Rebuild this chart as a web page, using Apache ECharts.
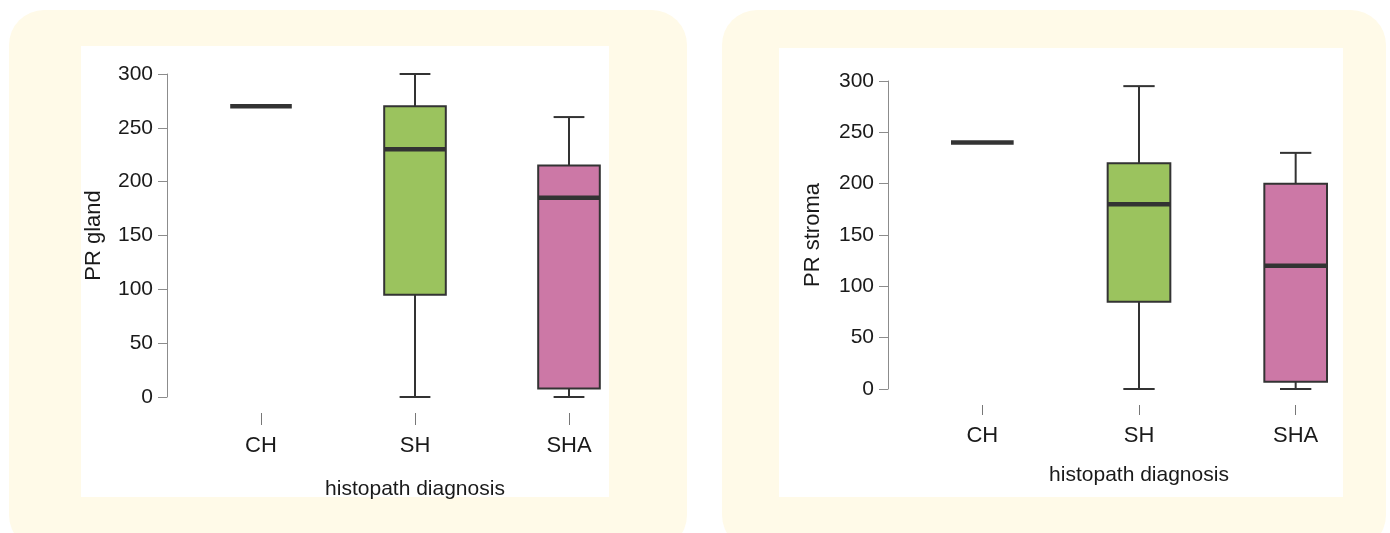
<!DOCTYPE html>
<html>
<head>
<meta charset="utf-8">
<title>PR gland / PR stroma by histopath diagnosis</title>
<script src="https://cdn.jsdelivr.net/npm/echarts@6/dist/echarts.min.js"></script>
<style>
  html, body { margin: 0; padding: 0; background: #ffffff; }
  #chart { width: 1390px; height: 533px; }
</style>
</head>
<body>
<div id="chart"></div>
<script>
// Diagnosis groups on the x axis
const categories = ['CH', 'SH', 'SHA'];
const yTicks = [0, 50, 100, 150, 200, 250, 300];

// PR gland five-number summaries per group
const glandMin    = [270,   0,   0];
const glandQ1     = [270,  95,   8];
const glandMedian = [270, 230, 185];
const glandQ3     = [270, 270, 215];
const glandMax    = [270, 300, 260];

// PR stroma five-number summaries per group
const stromaMin    = [240,   0,   0];
const stromaQ1     = [240,  85,   7];
const stromaMedian = [240, 180, 120];
const stromaQ3     = [240, 220, 200];
const stromaMax    = [240, 295, 230];

const boxColors = ['#ffffff', '#9bc35e', '#cc78a6'];
const INK = '#333333';
const TICK_FONT = '"Liberation Sans", Arial, sans-serif';
const TITLE_FONT = '"Liberation Sans", Arial, sans-serif';

function rows(mn, q1, md, q3, mx) {
  return categories.map((c, i) => [i, mn[i], q1[i], md[i], q3[i], mx[i]]);
}

// Box, whiskers with short caps, and a heavy median bar
function renderBox(params, api) {
  const i = api.value(0);
  const band = api.size([1, 0])[0];
  const boxW = band * 0.4;
  const capW = band * 0.2;
  const x = api.coord([i, 0])[0];
  const yMin = api.coord([i, api.value(1)])[1];
  const yQ1 = api.coord([i, api.value(2)])[1];
  const yMed = api.coord([i, api.value(3)])[1];
  const yQ3 = api.coord([i, api.value(4)])[1];
  const yMax = api.coord([i, api.value(5)])[1];
  const line = { stroke: INK, lineWidth: 2 };
  const children = [];
  if (yQ1 - yQ3 > 0.5) {
    children.push({
      type: 'rect',
      shape: { x: x - boxW / 2, y: yQ3, width: boxW, height: yQ1 - yQ3 },
      style: { fill: boxColors[i], stroke: INK, lineWidth: 2 }
    });
  }
  if (yMin - yQ1 > 0.5) {
    children.push({ type: 'line', shape: { x1: x, y1: yQ1, x2: x, y2: yMin }, style: line });
    children.push({ type: 'line', shape: { x1: x - capW / 2, y1: yMin, x2: x + capW / 2, y2: yMin }, style: line });
  }
  if (yQ3 - yMax > 0.5) {
    children.push({ type: 'line', shape: { x1: x, y1: yQ3, x2: x, y2: yMax }, style: line });
    children.push({ type: 'line', shape: { x1: x - capW / 2, y1: yMax, x2: x + capW / 2, y2: yMax }, style: line });
  }
  children.push({
    type: 'line',
    shape: { x1: x - boxW / 2, y1: yMed, x2: x + boxW / 2, y2: yMed },
    style: { stroke: INK, lineWidth: 4.5, lineCap: 'butt' }
  });
  return { type: 'group', children: children };
}

function yAxisFor(gridIndex, name, offset, nameGap) {
  return {
    type: 'value', gridIndex: gridIndex, min: yTicks[0], max: yTicks[yTicks.length - 1], interval: 50,
    offset: offset, name: name, nameLocation: 'middle', nameGap: nameGap,
    nameTextStyle: { fontFamily: TITLE_FONT, fontSize: 22, color: '#1a1a1a' },
    axisLine: { show: true, onZero: false, lineStyle: { color: '#8c8c8c', width: 1 } },
    axisTick: { show: true, length: 9, lineStyle: { color: '#8c8c8c', width: 1 } },
    axisLabel: { fontFamily: TICK_FONT, fontSize: 21, color: '#1a1a1a', margin: 14 },
    splitLine: { show: false }
  };
}

// Category axis sits below the plot; its line is invisible so only the ticks show
function xAxisFor(gridIndex, offset, tickLen, labelMargin, nameGap) {
  return {
    type: 'category', gridIndex: gridIndex, data: categories, boundaryGap: true,
    offset: offset, name: 'histopath diagnosis', nameLocation: 'middle', nameGap: nameGap,
    nameTextStyle: { fontFamily: TITLE_FONT, fontSize: 21, color: '#1a1a1a' },
    axisLine: { show: true, onZero: false, lineStyle: { color: 'rgba(0,0,0,0)', width: 1 } },
    axisTick: { show: true, alignWithLabel: true, length: tickLen, lineStyle: { color: '#777777', width: 1 } },
    axisLabel: { fontFamily: TICK_FONT, fontSize: 22, color: '#1a1a1a', margin: labelMargin },
    splitLine: { show: false }
  };
}

const chart = echarts.init(document.getElementById('chart'), null, { renderer: 'canvas' });
chart.setOption({
  animation: false,
  backgroundColor: '#ffffff',
  graphic: [
    { type: 'rect', z: -100, shape: { x: 9, y: 10, width: 678, height: 540, r: 35 }, style: { fill: '#fffae8' } },
    { type: 'rect', z: -100, shape: { x: 722, y: 10, width: 664, height: 540, r: 35 }, style: { fill: '#fffae8' } },
    { type: 'rect', z: -99, shape: { x: 81, y: 46, width: 528, height: 451 }, style: { fill: '#ffffff' } },
    { type: 'rect', z: -99, shape: { x: 779, y: 48, width: 564, height: 449 }, style: { fill: '#ffffff' } }
  ],
  grid: [
    { left: 184, top: 74, width: 462, height: 323 },
    { left: 904, top: 81, width: 470, height: 308 }
  ],
  xAxis: [
    xAxisFor(0, 16, 12, 22, 66),
    xAxisFor(1, 16, 10, 20, 60)
  ],
  yAxis: [
    yAxisFor(0, 'PR gland', 17, 62),
    yAxisFor(1, 'PR stroma', 16, 64)
  ],
  series: [
    {
      type: 'custom', xAxisIndex: 0, yAxisIndex: 0,
      renderItem: renderBox,
      encode: { x: 0, y: [1, 2, 3, 4, 5] },
      data: rows(glandMin, glandQ1, glandMedian, glandQ3, glandMax)
    },
    {
      type: 'custom', xAxisIndex: 1, yAxisIndex: 1,
      renderItem: renderBox,
      encode: { x: 0, y: [1, 2, 3, 4, 5] },
      data: rows(stromaMin, stromaQ1, stromaMedian, stromaQ3, stromaMax)
    }
  ]
});
</script>
</body>
</html>
